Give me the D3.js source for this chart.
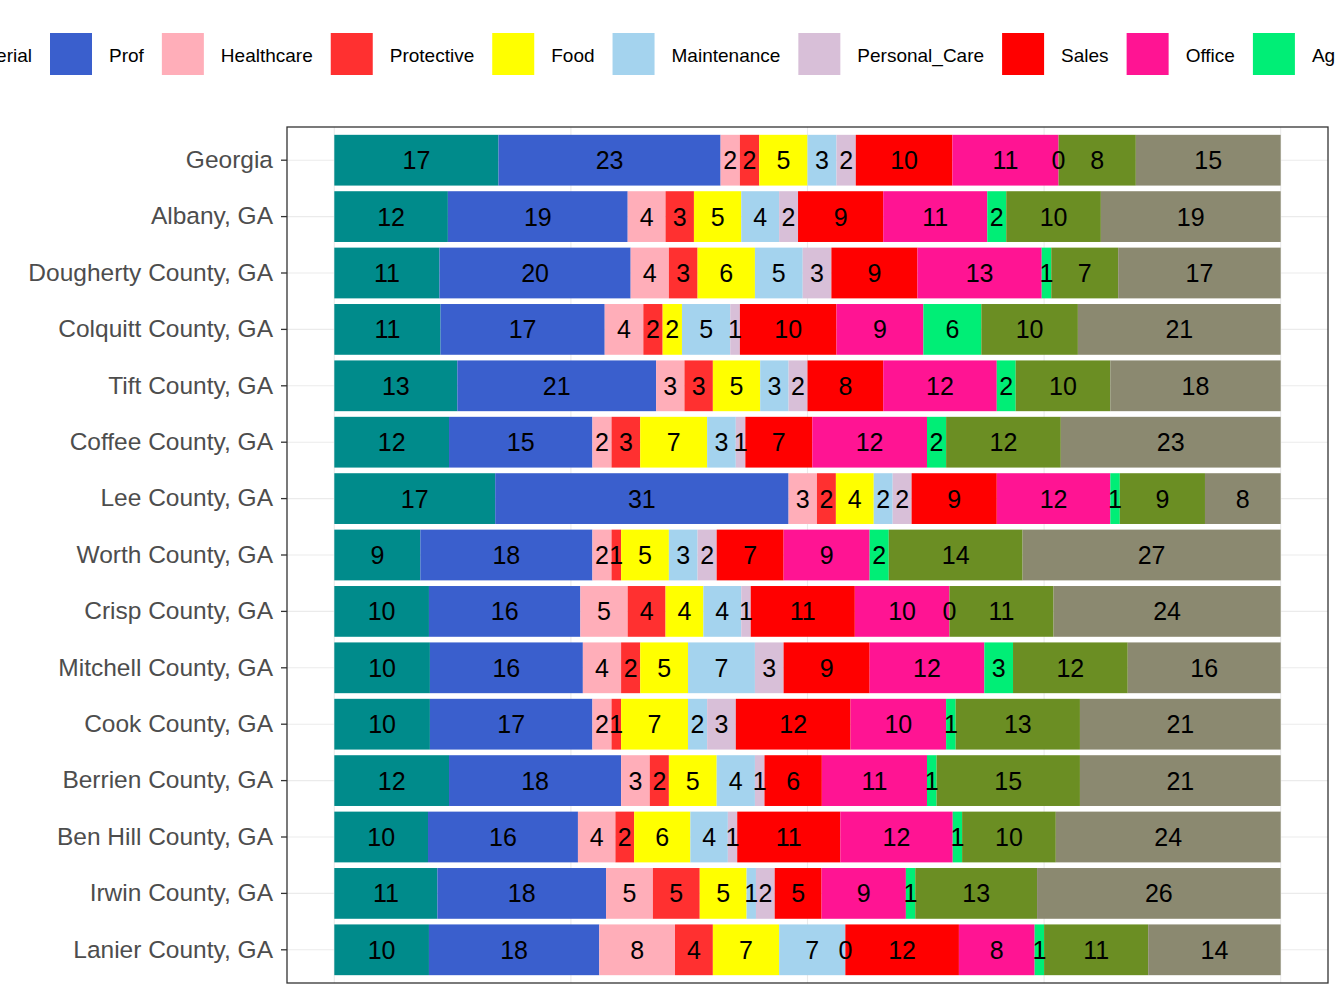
<!DOCTYPE html>
<html><head><meta charset="utf-8">
<script src="https://cdn.jsdelivr.net/npm/d3@7"></script>
<style>body{margin:0;background:#fff}svg{font-family:"Liberation Sans",Arial,sans-serif}</style>
</head><body><svg id="c" width="1344" height="1008"></svg>
<script>
const categories=["Managerial","Prof","Healthcare","Protective","Food","Maintenance","Personal_Care","Sales","Office","Ag","Construction","Production"];
const colors=["#008B8B","#3A5FCD","#FFAEB9","#FF3030","#FFFF00","#A4D3EE","#D8BFD8","#FF0000","#FF1493","#00EE76","#6B8E23","#8B8970"];
const places=["Georgia","Albany, GA","Dougherty County, GA","Colquitt County, GA","Tift County, GA","Coffee County, GA","Lee County, GA","Worth County, GA","Crisp County, GA","Mitchell County, GA","Cook County, GA","Berrien County, GA","Ben Hill County, GA","Irwin County, GA","Lanier County, GA"];
const values=[
[17,23,2,2,5,3,2,10,11,0,8,15],
[12,19,4,3,5,4,2,9,11,2,10,19],
[11,20,4,3,6,5,3,9,13,1,7,17],
[11,17,4,2,2,5,1,10,9,6,10,21],
[13,21,3,3,5,3,2,8,12,2,10,18],
[12,15,2,3,7,3,1,7,12,2,12,23],
[17,31,3,2,4,2,2,9,12,1,9,8],
[9,18,2,1,5,3,2,7,9,2,14,27],
[10,16,5,4,4,4,1,11,10,0,11,24],
[10,16,4,2,5,7,3,9,12,3,12,16],
[10,17,2,1,7,2,3,12,10,1,13,21],
[12,18,3,2,5,4,1,6,11,1,15,21],
[10,16,4,2,6,4,1,11,12,1,10,24],
[11,18,5,5,5,1,2,5,9,1,13,26],
[10,18,8,4,7,7,0,12,8,1,11,14]];
const svg=d3.select("#c");
const pl=287,pr=1328,pt=127,pb=983;
const x=d3.scaleLinear().domain([-0.05,1.05]).range([pl,pr]);
const y=d3.scaleBand().domain(places).range([pt+5,pb-5]).paddingInner(0.1).paddingOuter(0.05);
[0,0.25,0.5,0.75,1].forEach(v=>svg.append("line").attr("x1",x(v)).attr("x2",x(v)).attr("y1",pt).attr("y2",pb).attr("stroke","#ebebeb").attr("stroke-width",1.1));
places.forEach(p=>svg.append("line").attr("x1",pl).attr("x2",pr).attr("y1",y(p)+y.bandwidth()/2).attr("y2",y(p)+y.bandwidth()/2).attr("stroke","#ebebeb").attr("stroke-width",1.1));
const gR=svg.append("g"),gT=svg.append("g");
places.forEach((p,i)=>{
  const row=values[i],tot=d3.sum(row);let c=0;
  row.forEach((v,j)=>{
    const x0=x(c/tot),x1=x((c+v)/tot);c+=v;
    gR.append("rect").attr("x",x0).attr("y",y(p)).attr("width",Math.max(0,x1-x0)).attr("height",y.bandwidth()).attr("fill",colors[j]);
    gT.append("text").attr("x",(x0+x1)/2).attr("y",y(p)+y.bandwidth()/2).attr("dy","0.36em").attr("text-anchor","middle").attr("font-size",25).text(v);
  });
});
svg.append("rect").attr("x",pl).attr("y",pt).attr("width",pr-pl).attr("height",pb-pt).attr("fill","none").attr("stroke","#333").attr("stroke-width",1.3);
const ya=svg.append("g").attr("transform",`translate(${pl},0)`).call(d3.axisLeft(y).tickSize(6).tickPadding(8));
ya.select(".domain").remove();
ya.selectAll("line").attr("stroke","#333").attr("stroke-width",1.3);
ya.selectAll("text").attr("font-size",24.5).attr("fill","#4d4d4d").attr("font-family","Liberation Sans, Arial");
const lg=svg.append("g");
let pos=[];let cx=50;
const tmp=svg.append("text").attr("font-size",19);
const w=categories.map(c=>{tmp.text(c);return tmp.node().getComputedTextLength();});
tmp.remove();
for(let j=1;j<categories.length;j++){pos[j]=cx;cx+=42+17+w[j]+18;}
pos[0]=50-18-w[0]-17-42;
categories.forEach((c,j)=>{
  lg.append("rect").attr("x",pos[j]).attr("y",33).attr("width",42).attr("height",42).attr("fill",colors[j]);
  lg.append("text").attr("x",pos[j]+59).attr("y",55).attr("dy","0.36em").attr("font-size",19).attr("fill","#000").text(c);
});
</script></body></html>
